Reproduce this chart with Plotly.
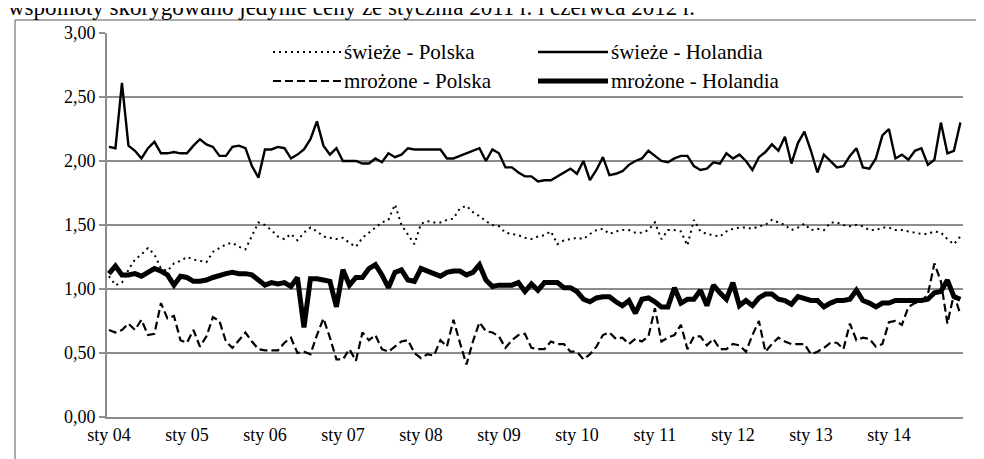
import plotly.graph_objects as go

months_pl = ["sty", "lut", "mar", "kwi", "maj", "cze", "lip", "sie", "wrz", "paź", "lis", "gru"]
years = list(range(2004, 2015))
categories = [f"{m} {str(y)[2:]}" for y in years for m in months_pl]
tick_labels = [f"sty {str(y)[2:]}" for y in years]

swieze_polska = [
    1.10, 1.03, 1.05, 1.15, 1.23, 1.27, 1.32, 1.27, 1.16, 1.14, 1.20, 1.22,
    1.25, 1.23, 1.22, 1.21, 1.29, 1.32, 1.35, 1.36, 1.33, 1.31, 1.41, 1.52,
    1.50, 1.46, 1.41, 1.39, 1.43, 1.38, 1.44, 1.48, 1.45, 1.41, 1.40, 1.39,
    1.40, 1.36, 1.33, 1.40, 1.44, 1.48, 1.52, 1.54, 1.66, 1.50, 1.42, 1.35,
    1.51, 1.53, 1.52, 1.52, 1.54, 1.55, 1.63, 1.65, 1.60, 1.57, 1.53, 1.50,
    1.49, 1.44, 1.43, 1.42, 1.40, 1.39, 1.41, 1.42, 1.45, 1.35, 1.38, 1.39,
    1.40, 1.39, 1.43, 1.46, 1.47, 1.43, 1.45, 1.46, 1.46, 1.44, 1.44, 1.46,
    1.52, 1.39, 1.46, 1.46, 1.45, 1.34, 1.54, 1.45, 1.43, 1.42, 1.41, 1.45,
    1.47, 1.48, 1.48, 1.47, 1.49, 1.50, 1.54, 1.52, 1.50, 1.46, 1.48, 1.51,
    1.46, 1.47, 1.46, 1.52, 1.52, 1.50, 1.49, 1.50, 1.49, 1.46, 1.46, 1.48,
    1.48, 1.46, 1.46, 1.45, 1.44, 1.43, 1.43, 1.45, 1.44, 1.39, 1.35, 1.41,
]

swieze_holandia = [
    2.11, 2.10, 2.61, 2.12, 2.08, 2.02, 2.10, 2.15, 2.06, 2.06, 2.07, 2.06,
    2.06, 2.12, 2.17, 2.13, 2.11, 2.04, 2.04, 2.11, 2.12, 2.10, 1.96, 1.87,
    2.09, 2.09, 2.11, 2.10, 2.02, 2.05, 2.09, 2.17, 2.31, 2.12, 2.05, 2.10,
    2.00, 2.00, 2.00, 1.98, 1.98, 2.02, 1.99, 2.06, 2.03, 2.05, 2.10, 2.09,
    2.09, 2.09, 2.09, 2.09, 2.02, 2.02, 2.04, 2.06, 2.08, 2.10, 2.00, 2.09,
    2.06, 1.95, 1.95, 1.91, 1.88, 1.88, 1.84, 1.85, 1.85, 1.88, 1.91, 1.94,
    1.90, 2.00, 1.85, 1.93, 2.03, 1.89, 1.90, 1.92, 1.97, 2.00, 2.02, 2.08,
    2.04, 2.00, 1.99, 2.02, 2.04, 2.04, 1.96, 1.93, 1.94, 1.99, 1.98, 2.06,
    2.02, 2.05, 2.00, 1.93, 2.03, 2.07, 2.13, 2.08, 2.19, 1.98, 2.14, 2.23,
    2.08, 1.91, 2.05, 2.00, 1.95, 1.96, 2.04, 2.10, 1.95, 1.94, 2.02, 2.20,
    2.25, 2.02, 2.05, 2.01, 2.08, 2.10, 1.97, 2.01, 2.30, 2.06, 2.08, 2.30,
]

mrozone_polska = [
    0.68, 0.66, 0.68, 0.73, 0.68, 0.76, 0.64, 0.65, 0.89, 0.77, 0.79, 0.60,
    0.58, 0.68, 0.55, 0.63, 0.78, 0.75, 0.59, 0.54, 0.60, 0.66, 0.59, 0.53,
    0.52, 0.52, 0.52, 0.58, 0.62, 0.50, 0.51, 0.49, 0.64, 0.77, 0.62, 0.45,
    0.45, 0.53, 0.44, 0.66, 0.60, 0.64, 0.53, 0.51, 0.55, 0.59, 0.60, 0.50,
    0.46, 0.49, 0.48, 0.60, 0.55, 0.76, 0.58, 0.41, 0.59, 0.74, 0.67, 0.66,
    0.63, 0.54, 0.60, 0.64, 0.65, 0.54, 0.53, 0.53, 0.59, 0.57, 0.57, 0.51,
    0.51, 0.45, 0.49, 0.55, 0.64, 0.66, 0.61, 0.62, 0.57, 0.61, 0.59, 0.63,
    0.85, 0.59, 0.62, 0.64, 0.72, 0.53, 0.63, 0.63, 0.56, 0.61, 0.53, 0.53,
    0.57, 0.56, 0.51, 0.64, 0.75, 0.51, 0.57, 0.62, 0.59, 0.57, 0.57, 0.57,
    0.49, 0.51, 0.54, 0.58, 0.58, 0.53, 0.73, 0.60, 0.62, 0.61, 0.55, 0.57,
    0.74, 0.75, 0.72, 0.86, 0.89, 0.90, 0.96, 1.20, 1.06, 0.73, 0.96, 0.80,
]

mrozone_holandia = [
    1.12, 1.18, 1.11, 1.11, 1.12, 1.10, 1.13, 1.16, 1.14, 1.11, 1.03, 1.10,
    1.09, 1.06, 1.06, 1.07, 1.09, 1.11, 1.12, 1.13, 1.12, 1.12, 1.11, 1.07,
    1.03, 1.05, 1.04, 1.05, 1.02, 1.09, 0.70, 1.08, 1.08, 1.07, 1.06, 0.86,
    1.15, 1.03, 1.09, 1.09, 1.16, 1.19, 1.11, 1.01, 1.13, 1.15, 1.07, 1.06,
    1.16, 1.14, 1.12, 1.10, 1.13, 1.14, 1.14, 1.11, 1.13, 1.19, 1.07, 1.02,
    1.03, 1.03, 1.03, 1.05, 0.98, 1.04, 0.99, 1.05, 1.05, 1.05, 1.01, 1.01,
    0.98, 0.92, 0.90, 0.93, 0.94, 0.94, 0.90, 0.87, 0.91, 0.81, 0.92, 0.93,
    0.90, 0.86, 0.86, 1.01, 0.89, 0.92, 0.92, 0.99, 0.87, 1.03, 0.97, 0.92,
    1.05, 0.87, 0.91, 0.87, 0.93, 0.96, 0.96, 0.92, 0.91, 0.88, 0.94, 0.92,
    0.91, 0.91, 0.86, 0.89, 0.91, 0.91, 0.92, 0.99, 0.91, 0.89, 0.86, 0.89,
    0.89, 0.91, 0.91, 0.91, 0.91, 0.91, 0.92, 0.97, 0.98, 1.07, 0.94, 0.92,
]

series_names = ["świeże - Polska", "świeże - Holandia", "mrożone - Polska", "mrożone - Holandia"]

FONT = "Liberation Serif"
GRID = "#8c8c8c"
W, H = 984, 459
ML, MR, MT, MB = 99, 29, 25, 50
PW, PH = W - ML - MR, H - MT - MB


def px_x(p):
    return (p - ML) / PW


def px_y(p):
    return (H - MB - p) / PH


styles = [
    dict(color="black", width=2, dash="2px,4px"),
    dict(color="black", width=2.4, dash="solid"),
    dict(color="black", width=2.2, dash="8px,4px"),
    dict(color="black", width=5, dash="solid"),
]
data = [swieze_polska, swieze_holandia, mrozone_polska, mrozone_holandia]

fig = go.Figure()
for name, vals, st in zip(series_names, data, styles):
    fig.add_trace(go.Scatter(x=categories, y=vals, mode="lines", name=name,
                             line=st, showlegend=False))

# manual legend (two columns)
legend_pos = [(265, 333, 44), (530, 600, 44), (265, 333, 73), (530, 600, 73)]
shapes = []
annotations = []
for name, st, (x0, x1, yy) in zip(series_names, styles, legend_pos):
    shapes.append(dict(type="line", xref="paper", yref="paper",
                       x0=px_x(x0), x1=px_x(x1), y0=px_y(yy), y1=px_y(yy),
                       line=st))
    annotations.append(dict(xref="paper", yref="paper", x=px_x(x1 + 1), y=px_y(yy),
                            xanchor="left", yanchor="middle", text=name, showarrow=False,
                            font=dict(family=FONT, size=21, color="black")))

# outer frame
shapes.append(dict(type="rect", xref="paper", yref="paper", layer="below",
                   x0=px_x(7), x1=px_x(990), y0=px_y(475), y1=px_y(12),
                   line=dict(color="#595959", width=1)))

annotations.append(dict(xref="paper", yref="paper", x=px_x(-2), y=px_y(-1),
                        xanchor="left", yanchor="middle", showarrow=False,
                        text="wspólnoty skorygowano jedynie ceny ze stycznia 2011 r. i czerwca 2012 r.",
                        font=dict(family=FONT, size=23, color="black")))

fig.update_layout(
    width=W, height=H,
    margin=dict(l=ML, r=MR, t=MT, b=MB, pad=0),
    paper_bgcolor="white", plot_bgcolor="white",
    separators=", ",
    font=dict(family=FONT, size=18, color="black"),
    shapes=shapes, annotations=annotations,
    xaxis=dict(type="category", range=[-0.3, 131.4], tickmode="array",
               tickvals=tick_labels, ticktext=tick_labels, showgrid=False,
               showline=True, linecolor=GRID, linewidth=2, ticks="",
               tickfont=dict(family=FONT, size=18, color="black")),
    yaxis=dict(range=[0, 3], tickvals=[0, 0.5, 1, 1.5, 2, 2.5, 3], tickformat=".2f",
               showgrid=True, gridcolor=GRID, gridwidth=2, zeroline=False,
               showline=True, linecolor=GRID, linewidth=2, ticks="outside",
               ticklen=6, tickcolor=GRID, tickwidth=2,
               tickfont=dict(family=FONT, size=18, color="black")),
)

fig.write_html("out.html")
